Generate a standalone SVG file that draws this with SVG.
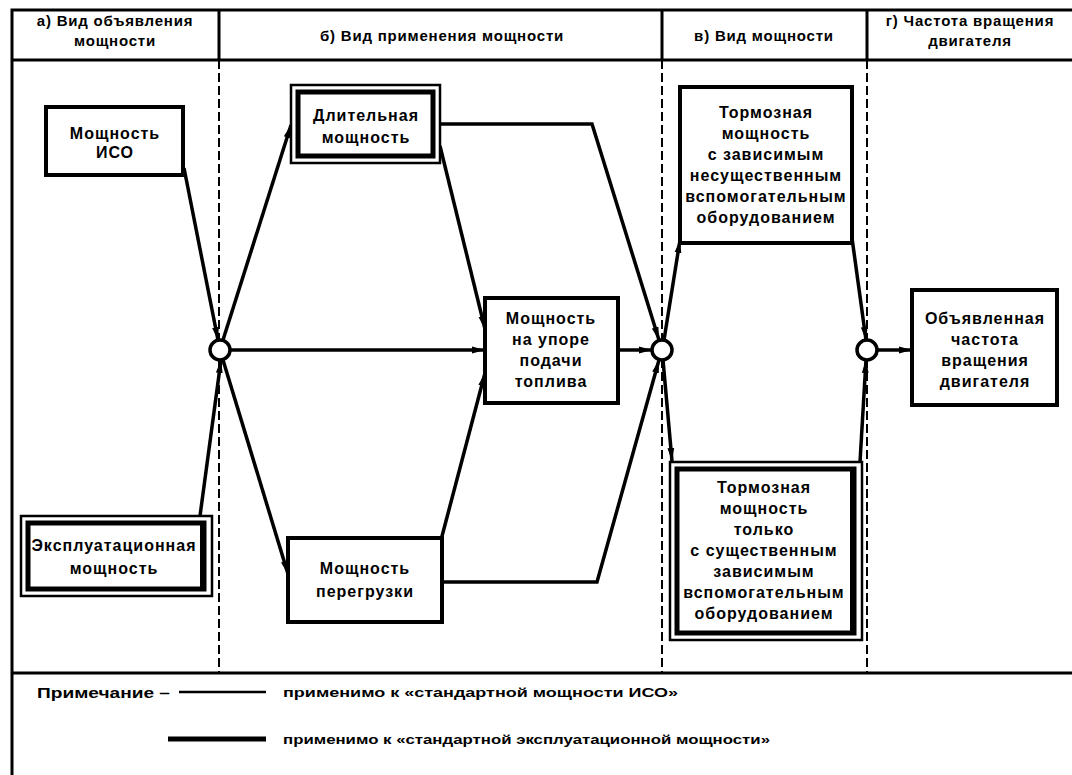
<svg xmlns="http://www.w3.org/2000/svg" width="1072" height="775" viewBox="0 0 1072 775">
<style>
.t{font-family:"Liberation Sans",Arial,sans-serif;font-weight:bold;font-size:16px;letter-spacing:1px;text-anchor:middle;fill:#000}
.h{font-family:"Liberation Sans",Arial,sans-serif;font-weight:bold;font-size:15px;letter-spacing:0.8px;text-anchor:middle;fill:#000}
.n{font-family:"Liberation Sans",Arial,sans-serif;font-weight:bold;fill:#000}
.box{fill:#fff;stroke:#000;stroke-width:4}
.outer{fill:#fff;stroke:#000;stroke-width:2.5}
.inner{fill:none;stroke:#000;stroke-width:5}
.frame{stroke:#000;stroke-width:3;fill:none}
.dash{stroke:#000;stroke-width:2;stroke-dasharray:9,4;fill:none}
.c{fill:none;stroke:#000;stroke-width:3.5;marker-end:url(#ah)}
.j{fill:#fff;stroke:#000;stroke-width:3.5}
</style>
<defs>
<marker id="ah" markerUnits="userSpaceOnUse" markerWidth="14" markerHeight="8" refX="13" refY="4" orient="auto">
<path d="M0,0.6 L13,4 L0,7.4 z" fill="#000"/>
</marker>
</defs>
<rect width="1072" height="775" fill="#fff"/>
<g id="frame">
<path class="frame" d="M12,775 L12,10 L1072,10"/>
<path class="frame" d="M12,60 L1072,60"/>
<path class="frame" d="M12,673 L1072,673"/>
<path class="frame" d="M219,10 L219,60 M662,10 L662,60 M867,10 L867,60" stroke-width="2.5"/>
<path class="dash" d="M219,60 L219,673 M662,60 L662,673 M867,60 L867,673"/>
</g>
<g id="headers">
<text class="h" x="115" y="26">а) Вид объявления</text>
<text class="h" x="115" y="46">мощности</text>
<text class="h" x="442" y="41">б) Вид применения мощности</text>
<text class="h" x="764" y="41">в) Вид мощности</text>
<text class="h" x="970" y="26">г) Частота вращения</text>
<text class="h" x="970" y="46">двигателя</text>
</g>
<g id="connectors">
<path class="c" d="M184,168 L218,340"/>
<path class="c" d="M200,516 L221,360"/>
<path class="c" d="M223,340 L291,125"/>
<path class="c" d="M230,350 L485,350"/>
<path class="c" d="M223,360 L288,574"/>
<path class="c" d="M440,146 L485,329"/>
<path class="c" d="M440,124 L592,124 L659,340"/>
<path class="c" d="M441,540 L485,373"/>
<path class="c" d="M442,582 L597,582 L659,360"/>
<path class="c" d="M618,350 L652,350"/>
<path class="c" d="M664,340 L680,240"/>
<path class="c" d="M663,360 L672,461"/>
<path class="c" d="M852,238 L866,340"/>
<path class="c" d="M860,462 L866,360"/>
<path class="c" d="M877,350 L912,350"/>
</g>
<g id="j1"><circle class="j" cx="220" cy="350" r="10"/></g>
<g id="j2"><circle class="j" cx="662" cy="350" r="10"/></g>
<g id="j3"><circle class="j" cx="867" cy="350" r="10"/></g>
<g id="iso">
<rect class="box" x="46" y="107" width="137" height="68"/>
<text class="t" x="115" y="139">Мощность</text>
<text class="t" x="115" y="158">ИСО</text>
</g>
<g id="expl">
<rect class="outer" x="21" y="516" width="191" height="80"/>
<rect class="inner" x="28" y="523" width="176" height="66"/>
<rect x="200" y="522" width="6" height="68" fill="#000"/>
<text class="t" x="114" y="551">Эксплуатационная</text>
<text class="t" x="114" y="574">мощность</text>
</g>
<g id="dlit">
<rect class="outer" x="291" y="85" width="149" height="78"/>
<rect class="inner" x="298" y="92" width="135" height="64"/>
<text class="t" x="366" y="121">Длительная</text>
<text class="t" x="366" y="143">мощность</text>
</g>
<g id="upor">
<rect class="box" x="485" y="298" width="133" height="105"/>
<text class="t" x="551" y="324">Мощность</text>
<text class="t" x="551" y="345">на упоре</text>
<text class="t" x="551" y="366">подачи</text>
<text class="t" x="551" y="387">топлива</text>
</g>
<g id="peregr">
<rect class="box" x="288" y="538" width="154" height="84"/>
<text class="t" x="365" y="574">Мощность</text>
<text class="t" x="365" y="597">перегрузки</text>
</g>
<g id="torm1">
<rect class="box" x="680" y="87" width="172" height="156"/>
<text class="t" x="766" y="118">Тормозная</text>
<text class="t" x="766" y="139">мощность</text>
<text class="t" x="766" y="160">с зависимым</text>
<text class="t" x="766" y="181">несущественным</text>
<text class="t" x="766" y="202">вспомогательным</text>
<text class="t" x="766" y="223">оборудованием</text>
</g>
<g id="torm2">
<rect class="outer" x="670" y="462" width="192" height="178"/>
<rect class="inner" x="677" y="469" width="177" height="164"/>
<rect x="850" y="468" width="6" height="166" fill="#000"/>
<text class="t" x="764" y="493">Тормозная</text>
<text class="t" x="764" y="514">мощность</text>
<text class="t" x="764" y="535">только</text>
<text class="t" x="764" y="556">с существенным</text>
<text class="t" x="764" y="577">зависимым</text>
<text class="t" x="764" y="598">вспомогательным</text>
<text class="t" x="764" y="619">оборудованием</text>
</g>
<g id="freq">
<rect class="box" x="912" y="290" width="145" height="115"/>
<text class="t" x="985" y="324">Объявленная</text>
<text class="t" x="985" y="345">частота</text>
<text class="t" x="985" y="366">вращения</text>
<text class="t" x="985" y="387">двигателя</text>
</g>
<g id="legend">
<text class="n" x="37" y="698" font-size="15" textLength="133" lengthAdjust="spacingAndGlyphs">Примечание –</text>
<path d="M179,692 L266,692" stroke="#000" stroke-width="2.5"/>
<text class="n" x="283" y="697" font-size="12.5" textLength="395" lengthAdjust="spacingAndGlyphs">применимо к «стандартной мощности ИСО»</text>
<path d="M168,739 L266,739" stroke="#000" stroke-width="5"/>
<text class="n" x="283" y="744" font-size="12.5" textLength="487" lengthAdjust="spacingAndGlyphs">применимо к «стандартной эксплуатационной мощности»</text>
</g>
</svg>
